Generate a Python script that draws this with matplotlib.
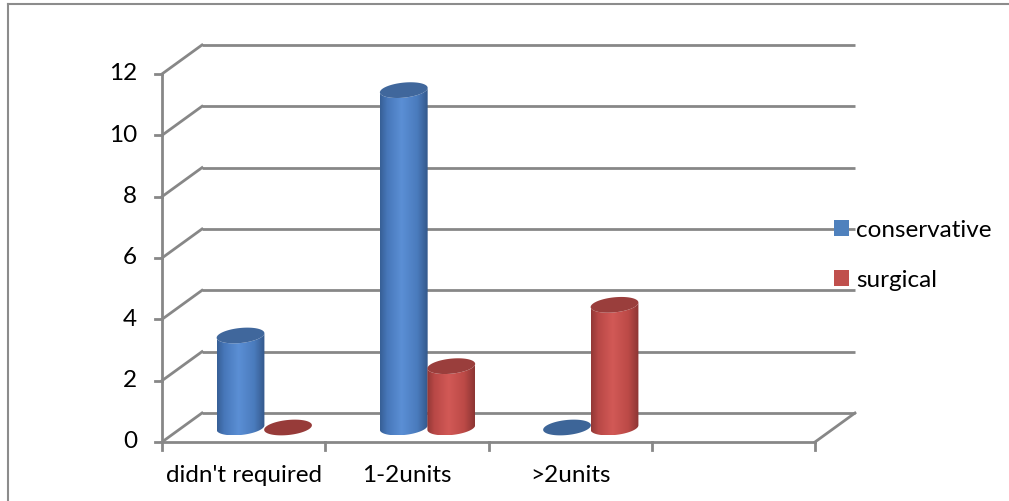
import numpy as np
import matplotlib.pyplot as plt
from matplotlib.patches import Polygon, Patch
from matplotlib.lines import Line2D
from matplotlib.colors import LinearSegmentedColormap

# data
categories = ["didn't required", "1-2units", ">2units"]
series_names = ["conservative", "surgical"]
conservative = [3, 11, 0]
surgical = [0, 2, 4]
y_ticks = [0, 2, 4, 6, 8, 10, 12]

n_slots = 4          # the chart has an empty 4th category slot
y_max = 12

# geometry (pixels per data unit of the pseudo-3d view)
W, H = 1009, 501
PX_X = 163.25
PX_Y = 30.67
ORIG_X, ORIG_Y = 162, 442      # where (0, 0) of the front plane sits
DX = 40 / PX_X                  # depth offset
DY = 29 / PX_Y
bar_off = [0.481, 0.772]        # cylinder centre within a category slot
A, B, TILT = 24.0, 7.5, np.radians(6)

plt.rcParams['font.family'] = ['Lato', 'DejaVu Sans']
FS = 17.5

fig = plt.figure(figsize=(W / 100, H / 100), dpi=100)
ax = fig.add_axes([0, 0, 1, 1])
ax.axis('off')

grid_c = '#878787'
lw = 2.0

# back wall grid and left wall diagonals
for v in y_ticks:
    ax.plot([DX, n_slots + DX], [v + DY, v + DY], color=grid_c, lw=lw, zorder=1,
            solid_capstyle='butt')
    ax.plot([0, DX], [v, v + DY], color=grid_c, lw=lw, zorder=1)
    ax.plot([-7 / PX_X, 0], [v, v], color=grid_c, lw=lw, zorder=1)
    ax.text(-25 / PX_X, v, str(v), ha='right', va='center', fontsize=FS)

# front axis, floor front edge, floor right edge
ax.plot([0, 0], [0, y_max], color=grid_c, lw=lw, zorder=1)
ax.plot([0, n_slots], [0, 0], color=grid_c, lw=lw, zorder=1)
ax.plot([n_slots, n_slots + DX], [0, DY], color=grid_c, lw=lw, zorder=1)
for i in range(n_slots + 1):
    ax.plot([i, i], [0, -8 / PX_Y], color=grid_c, lw=lw, zorder=1)

for i, c in enumerate(categories):
    ax.text(i + 0.5, -34 / PX_Y, c, ha='center', va='center', fontsize=FS)


def ellipse(cx, cy, t):
    ex = A * np.cos(t) * np.cos(TILT) - B * np.sin(t) * np.sin(TILT)
    ey = A * np.cos(t) * np.sin(TILT) + B * np.sin(t) * np.cos(TILT)
    return cx + ex / PX_X, cy + ey / PX_Y


t_r = np.arctan(-B * np.tan(TILT) / A)
lower = np.linspace(t_r - np.pi, t_r, 60)
full = np.linspace(0, 2 * np.pi, 120)

side_maps = [
    LinearSegmentedColormap.from_list('b', [(0, '#375f96'), (0.15, '#4777b9'),
                                            (0.45, '#5b8fd5'), (0.78, '#4a7bbd'),
                                            (1, '#34588b')]),
    LinearSegmentedColormap.from_list('r', [(0, '#923836'), (0.15, '#b84846'),
                                            (0.45, '#d25956'), (0.78, '#bc4a47'),
                                            (1, '#8c3533')]),
]
top_cols = ['#40679c', '#9a3e3c']
flat_cols = ['#3d6598', '#973b39']

grad = np.linspace(0, 1, 200).reshape(1, -1)
z = 3
for s, vals in enumerate([conservative, surgical]):
    for i, v in enumerate(vals):
        cx = i + bar_off[s]
        cy0 = DY / 2
        cy1 = cy0 + v
        if v > 0:
            bx, by = ellipse(cx, cy0, lower)
            tx, ty = ellipse(cx, cy1, lower[::-1])
            body = Polygon(np.column_stack([np.r_[bx, tx], np.r_[by, ty]]),
                           closed=True, facecolor='none', edgecolor='none')
            ax.add_patch(body)
            im = ax.imshow(grad, cmap=side_maps[s], aspect='auto', zorder=z,
                           extent=[bx.min(), bx.max(), by.min(), ty.max()])
            im.set_clip_path(body)
            ex, ey = ellipse(cx, cy1, full)
            ax.fill(ex, ey, color=top_cols[s], zorder=z + 0.5, lw=0)
        else:
            ex, ey = ellipse(cx, cy1, full)
            ax.fill(ex, ey, color=flat_cols[s], zorder=z + 0.5, lw=0)
        z += 1

handles = [Patch(facecolor='#4f81bd'), Patch(facecolor='#c0504d')]
ax.legend(handles, series_names, loc='upper left', frameon=False,
          bbox_to_anchor=(824 / W, 1 - 210 / H), fontsize=FS,
          handlelength=0.62, handleheight=0.62, handletextpad=0.3,
          labelspacing=1.2, borderaxespad=0)

ax.set_xlim(-ORIG_X / PX_X, (W - ORIG_X) / PX_X)
ax.set_ylim((ORIG_Y - H) / PX_Y, ORIG_Y / PX_Y)

# outer frame (only top and left edges are visible)
fig.add_artist(Line2D([8 / W, 8 / W], [0, 1 - 4 / H], color='#8c8c8c', lw=1.5))
fig.add_artist(Line2D([8 / W, 1], [1 - 4 / H, 1 - 4 / H], color='#8c8c8c', lw=1.5))

fig.savefig('out.png', dpi=100)
